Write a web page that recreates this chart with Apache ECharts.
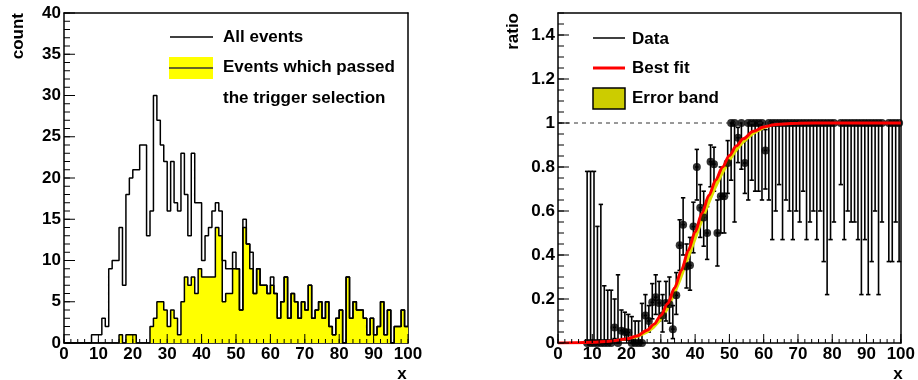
<!DOCTYPE html>
<html>
<head>
<meta charset="utf-8">
<script src="https://cdn.jsdelivr.net/npm/echarts@6/dist/echarts.min.js"></script>
<style>
  html, body { margin: 0; padding: 0; background: #fff; }
  #chart { width: 918px; height: 380px; background: #fff; }
</style>
</head>
<body>
<div id="chart"></div>
<script>
// histogram contents, one value per unit-wide bin from x = 0 to 100
const allEvents = [
  0, 0, 0, 0, 0, 0, 0, 0, 1, 1,
  1, 3, 2, 9, 10, 10, 14, 7, 18, 20,
  21, 21, 24, 24, 13, 16, 30, 27, 24, 22,
  16, 22, 17, 16, 23, 18, 13, 23, 17, 17,
  10, 13, 14, 16, 17, 16, 10, 9, 9, 11,
  9, 4, 15, 12, 11, 6, 9, 7, 7, 6,
  8, 6, 3, 5, 8, 3, 6, 5, 3, 5,
  4, 7, 3, 4, 5, 3, 5, 2, 1, 3,
  4, 0, 8, 3, 5, 4, 4, 3, 1, 3,
  1, 2, 5, 1, 4, 0, 2, 2, 4, 2
];
const passedEvents = [
  0, 0, 0, 0, 0, 0, 0, 0, 0, 0,
  0, 0, 0, 0, 0, 0, 1, 0, 1, 1,
  1, 0, 0, 0, 0, 2, 3, 5, 5, 4,
  2, 4, 3, 1, 5, 8, 7, 8, 6, 9,
  8, 8, 8, 8, 14, 13, 5, 6, 6, 9,
  9, 4, 14, 12, 9, 6, 9, 7, 7, 6,
  7, 6, 3, 5, 8, 3, 6, 5, 3, 5,
  4, 7, 3, 4, 5, 3, 5, 2, 1, 3,
  4, 0, 8, 3, 5, 4, 4, 3, 1, 3,
  1, 2, 5, 1, 4, 0, 2, 2, 4, 2
];

// ratio points with lower / upper ends of their error bars (null = empty bin)
const ratio = [
  null, null, null, null, null, null, null, null, 0, 0,
  0, 0, 0, 0, 0, 0, 0.071, 0, 0.056, 0.05,
  0.048, 0, 0, 0, 0, 0.125, 0.1, 0.185, 0.208, 0.182,
  0.125, 0.182, 0.176, 0.063, 0.217, 0.444, 0.538, 0.348, 0.353, 0.529,
  0.8, 0.615, 0.571, 0.5, 0.824, 0.813, 0.5, 0.667, 0.667, 0.818,
  1, 1, 0.933, 1, 0.818, 1, 1, 1, 1, 1,
  0.875, 1, 1, 1, 1, 1, 1, 1, 1, 1,
  1, 1, 1, 1, 1, 1, 1, 1, 1, 1,
  1, null, 1, 1, 1, 1, 1, 1, 1, 1,
  1, 1, 1, 1, 1, null, 1, 1, 1, 1
];
const ratioLow = [
  null, null, null, null, null, null, null, null, 0, 0,
  0, 0, 0, 0, 0, 0, 0.02, 0, 0.015, 0.013,
  0.012, 0, 0, 0, 0, 0.05, 0.05, 0.11, 0.13, 0.1,
  0.05, 0.1, 0.09, 0.02, 0.13, 0.33, 0.4, 0.25, 0.24, 0.41,
  0.65, 0.48, 0.44, 0.38, 0.71, 0.69, 0.35, 0.5, 0.5, 0.68,
  0.74, 0.55, 0.82, 0.79, 0.68, 0.65, 0.74, 0.69, 0.69, 0.65,
  0.7, 0.65, 0.47, 0.6, 0.72, 0.47, 0.65, 0.6, 0.47, 0.6,
  0.55, 0.69, 0.47, 0.55, 0.6, 0.47, 0.6, 0.37, 0.22, 0.47,
  0.55, null, 0.72, 0.47, 0.6, 0.55, 0.55, 0.47, 0.22, 0.47,
  0.22, 0.37, 0.6, 0.22, 0.55, null, 0.37, 0.37, 0.55, 0.37
];
const ratioHigh = [
  null, null, null, null, null, null, null, null, 0.78, 0.78,
  0.78, 0.53, 0.63, 0.26, 0.24, 0.24, 0.2, 0.31, 0.15, 0.14,
  0.13, 0.12, 0.1, 0.1, 0.18, 0.22, 0.17, 0.27, 0.31, 0.28,
  0.22, 0.28, 0.3, 0.17, 0.32, 0.56, 0.66, 0.45, 0.48, 0.64,
  0.88, 0.72, 0.69, 0.62, 0.9, 0.89, 0.65, 0.8, 0.8, 0.92,
  1, 1, 0.98, 1, 0.92, 1, 1, 1, 1, 1,
  0.97, 1, 1, 1, 1, 1, 1, 1, 1, 1,
  1, 1, 1, 1, 1, 1, 1, 1, 1, 1,
  1, null, 1, 1, 1, 1, 1, 1, 1, 1,
  1, 1, 1, 1, 1, null, 1, 1, 1, 1
];

// best fit curve and its error band, read along x
const fitX = [0, 5, 10, 15, 20, 23, 26, 28, 30, 32, 34, 36, 38, 40, 42, 44, 46, 48, 50, 52, 54, 57, 60, 63, 66, 70, 80, 90, 100];
const fitY = [0, 0.001, 0.003, 0.008, 0.018, 0.032, 0.058, 0.085, 0.125, 0.18, 0.25, 0.33, 0.42, 0.505, 0.59, 0.67, 0.74, 0.8, 0.852, 0.895, 0.928, 0.962, 0.982, 0.992, 0.996, 0.999, 1, 1, 1];
const bandLow = [0, 0, 0.002, 0.005, 0.012, 0.022, 0.042, 0.064, 0.098, 0.145, 0.21, 0.285, 0.37, 0.455, 0.54, 0.62, 0.695, 0.76, 0.818, 0.866, 0.905, 0.946, 0.972, 0.987, 0.994, 0.998, 1, 1, 1];
const bandHigh = [0, 0.001, 0.004, 0.01, 0.022, 0.037, 0.064, 0.092, 0.134, 0.19, 0.262, 0.343, 0.432, 0.517, 0.6, 0.678, 0.747, 0.806, 0.857, 0.899, 0.931, 0.964, 0.983, 0.993, 0.997, 0.999, 1, 1, 1];
const unityLevel = 1;

// tick positions (labels come from the axes)
const xMajorTicks = [0, 10, 20, 30, 40, 50, 60, 70, 80, 90, 100];
const countMajorTicks = [0, 5, 10, 15, 20, 25, 30, 35, 40];
const ratioMajorTicks = [0, 0.2, 0.4, 0.6, 0.8, 1, 1.2, 1.4];

function range(start, stop, step) {
  const out = [];
  for (let i = 0; start + i * step <= stop + 1e-9; i++) out.push(Math.round((start + i * step) * 1000) / 1000);
  return out;
}
const xMinorTicks = range(0, 100, 2);
const countMinorTicks = range(0, 40, 1);
const ratioMinorTicks = range(0, 1.5, 0.05);

const FONT = "'Liberation Sans', Arial, Helvetica, sans-serif";

function stepData(values) {
  const pts = values.map((v, i) => [i, v]);
  pts.push([values.length, values[values.length - 1]]);
  return pts;
}

function labelStyle(extra) {
  return Object.assign({ color: "#000", fontFamily: FONT, fontWeight: "bold", fontSize: 17, margin: 3 }, extra || {});
}
function frameLine() {
  return { show: true, onZero: false, lineStyle: { color: "#000", width: 1.5 } };
}

function xAxisFor(gridIndex) {
  return {
    gridIndex: gridIndex,
    type: "value",
    min: 0,
    max: 100,
    interval: 10,
    axisLine: frameLine(),
    axisTick: { show: false },
    splitLine: { show: false },
    axisLabel: labelStyle()
  };
}

function yAxisFor(gridIndex, max, interval, extra) {
  return {
    gridIndex: gridIndex,
    type: "value",
    min: 0,
    max: max,
    interval: interval,
    axisLine: frameLine(),
    axisTick: { show: false },
    splitLine: { show: false },
    axisLabel: labelStyle(extra)
  };
}

// plain axis lines closing the frame on top and right
function frameAxis(gridIndex, position) {
  return {
    gridIndex: gridIndex,
    type: "value",
    position: position,
    min: 0,
    max: 1,
    axisLine: frameLine(),
    axisTick: { show: false },
    axisLabel: { show: false },
    splitLine: { show: false }
  };
}

// inward ROOT-style ticks placed through the axis scales
function tickSeries(axisIndex, yMajor, yMinor) {
  return {
    type: "custom",
    xAxisIndex: axisIndex,
    yAxisIndex: axisIndex,
    data: [0],
    z: 10,
    silent: true,
    renderItem: function (params, api) {
      const children = [];
      const add = (x1, y1, x2, y2) => children.push({
        type: "line", shape: { x1: x1, y1: y1, x2: x2, y2: y2 }, style: { stroke: "#000", lineWidth: 1 }
      });
      xMinorTicks.forEach((v) => { const p = api.coord([v, 0]); add(p[0], p[1], p[0], p[1] - 4); });
      xMajorTicks.forEach((v) => { const p = api.coord([v, 0]); add(p[0], p[1], p[0], p[1] - 9); });
      yMinor.forEach((v) => { const p = api.coord([0, v]); add(p[0], p[1], p[0] + 6, p[1]); });
      yMajor.forEach((v) => { const p = api.coord([0, v]); add(p[0], p[1], p[0] + 11, p[1]); });
      return { type: "group", children: children };
    }
  };
}

const effData = [];
ratio.forEach((r, i) => {
  if (r !== null) effData.push([i + 0.5, r, ratioLow[i], ratioHigh[i]]);
});

const chart = echarts.init(document.getElementById("chart"));

chart.setOption({
  animation: false,
  grid: [
    { left: 64, top: 13, width: 344, height: 330 },
    { left: 558, top: 13, width: 346, height: 330 }
  ],
  xAxis: [xAxisFor(0), xAxisFor(1), frameAxis(0, "top"), frameAxis(1, "top")],
  yAxis: [
    yAxisFor(0, 40, 5),
    yAxisFor(1, 1.5, 0.2, { showMaxLabel: false }),
    frameAxis(0, "right"),
    frameAxis(1, "right")
  ],
  series: [
    {
      name: "All events",
      type: "line",
      xAxisIndex: 0,
      yAxisIndex: 0,
      step: "end",
      data: stepData(allEvents),
      showSymbol: false,
      lineStyle: { color: "#000", width: 1.5 }
    },
    {
      name: "Events which passed the trigger selection",
      type: "line",
      xAxisIndex: 0,
      yAxisIndex: 0,
      step: "end",
      data: stepData(passedEvents),
      showSymbol: false,
      lineStyle: { color: "#000", width: 1.5 },
      areaStyle: { color: "#ffff00", opacity: 1 }
    },
    {
      type: "line",
      xAxisIndex: 1,
      yAxisIndex: 1,
      data: [[0, unityLevel], [100, unityLevel]],
      showSymbol: false,
      lineStyle: { color: "#333", width: 1, type: [4, 4] }
    },
    {
      name: "Data",
      type: "custom",
      xAxisIndex: 1,
      yAxisIndex: 1,
      data: effData,
      renderItem: function (params, api) {
        const x = api.value(0);
        const y = api.value(1);
        const lo = api.value(2);
        const hi = api.value(3);
        const p = api.coord([x, y]);
        const pl = api.coord([x - 0.5, y]);
        const pr = api.coord([x + 0.5, y]);
        const plo = api.coord([x, lo]);
        const phi = api.coord([x, hi]);
        const cap = 2.2;
        const st = () => ({ stroke: "#000", lineWidth: 1.6 });
        const children = [
          { type: "line", shape: { x1: pl[0], y1: p[1], x2: pr[0], y2: p[1] }, style: st() },
          { type: "line", shape: { x1: p[0], y1: plo[1], x2: p[0], y2: phi[1] }, style: st() }
        ];
        if (hi > y) children.push({ type: "line", shape: { x1: p[0] - cap, y1: phi[1], x2: p[0] + cap, y2: phi[1] }, style: st() });
        if (lo < y) children.push({ type: "line", shape: { x1: p[0] - cap, y1: plo[1], x2: p[0] + cap, y2: plo[1] }, style: st() });
        return { type: "group", children: children };
      }
    },
    {
      type: "scatter",
      xAxisIndex: 1,
      yAxisIndex: 1,
      data: effData.map((d) => [d[0], d[1]]),
      symbol: "circle",
      symbolSize: 8,
      itemStyle: { color: "#000" }
    },
    {
      name: "Error band",
      type: "custom",
      xAxisIndex: 1,
      yAxisIndex: 1,
      data: [0],
      renderItem: function (params, api) {
        const upper = fitX.map((x, i) => api.coord([x, bandHigh[i]]));
        const lower = fitX.map((x, i) => api.coord([x, bandLow[i]])).reverse();
        return {
          type: "polygon",
          shape: { points: upper.concat(lower) },
          style: { fill: "#dede00" }
        };
      }
    },
    {
      name: "Best fit",
      type: "line",
      xAxisIndex: 1,
      yAxisIndex: 1,
      data: fitX.map((x, i) => [x, fitY[i]]),
      smooth: 0.3,
      smoothMonotone: "x",
      showSymbol: false,
      lineStyle: { color: "#ff0000", width: 3 }
    },
    tickSeries(0, countMajorTicks, countMinorTicks),
    tickSeries(1, ratioMajorTicks, ratioMinorTicks)
  ],
  graphic: [
    // axis titles
    { type: "text", x: 18, y: 13, rotation: Math.PI / 2,
      style: { text: "count", font: "bold 17px " + FONT, fill: "#000", align: "right", verticalAlign: "middle" } },
    { type: "text", x: 402, y: 374,
      style: { text: "x", font: "bold 17px " + FONT, fill: "#000", align: "center", verticalAlign: "middle" } },
    { type: "text", x: 513, y: 13, rotation: Math.PI / 2,
      style: { text: "ratio", font: "bold 17px " + FONT, fill: "#000", align: "right", verticalAlign: "middle" } },
    { type: "text", x: 898, y: 374,
      style: { text: "x", font: "bold 17px " + FONT, fill: "#000", align: "center", verticalAlign: "middle" } },

    // left legend
    { type: "line", shape: { x1: 170, y1: 37, x2: 213, y2: 37 }, style: { stroke: "#000", lineWidth: 1.5 } },
    { type: "text", x: 223, y: 37,
      style: { text: "All events", font: "bold 17px " + FONT, fill: "#000", verticalAlign: "middle" } },
    { type: "rect", shape: { x: 169, y: 57, width: 44, height: 22 }, style: { fill: "#ffff00" } },
    { type: "line", shape: { x1: 169, y1: 68, x2: 213, y2: 68 }, style: { stroke: "#333", lineWidth: 1.5 } },
    { type: "text", x: 223, y: 67,
      style: { text: "Events which passed", font: "bold 17px " + FONT, fill: "#000", verticalAlign: "middle" } },
    { type: "text", x: 223, y: 98,
      style: { text: "the trigger selection", font: "bold 17px " + FONT, fill: "#000", verticalAlign: "middle" } },

    // right legend
    { type: "line", shape: { x1: 593, y1: 38, x2: 625, y2: 38 }, style: { stroke: "#000", lineWidth: 1.5 } },
    { type: "text", x: 632, y: 39,
      style: { text: "Data", font: "bold 17px " + FONT, fill: "#000", verticalAlign: "middle" } },
    { type: "line", shape: { x1: 593, y1: 68, x2: 625, y2: 68 }, style: { stroke: "#ff0000", lineWidth: 3 } },
    { type: "text", x: 632, y: 68,
      style: { text: "Best fit", font: "bold 17px " + FONT, fill: "#000", verticalAlign: "middle" } },
    { type: "rect", shape: { x: 593, y: 88, width: 32, height: 21 }, style: { fill: "#cccc00", stroke: "#000", lineWidth: 1.5 } },
    { type: "text", x: 632, y: 98,
      style: { text: "Error band", font: "bold 17px " + FONT, fill: "#000", verticalAlign: "middle" } }
  ]
});
</script>
</body>
</html>
